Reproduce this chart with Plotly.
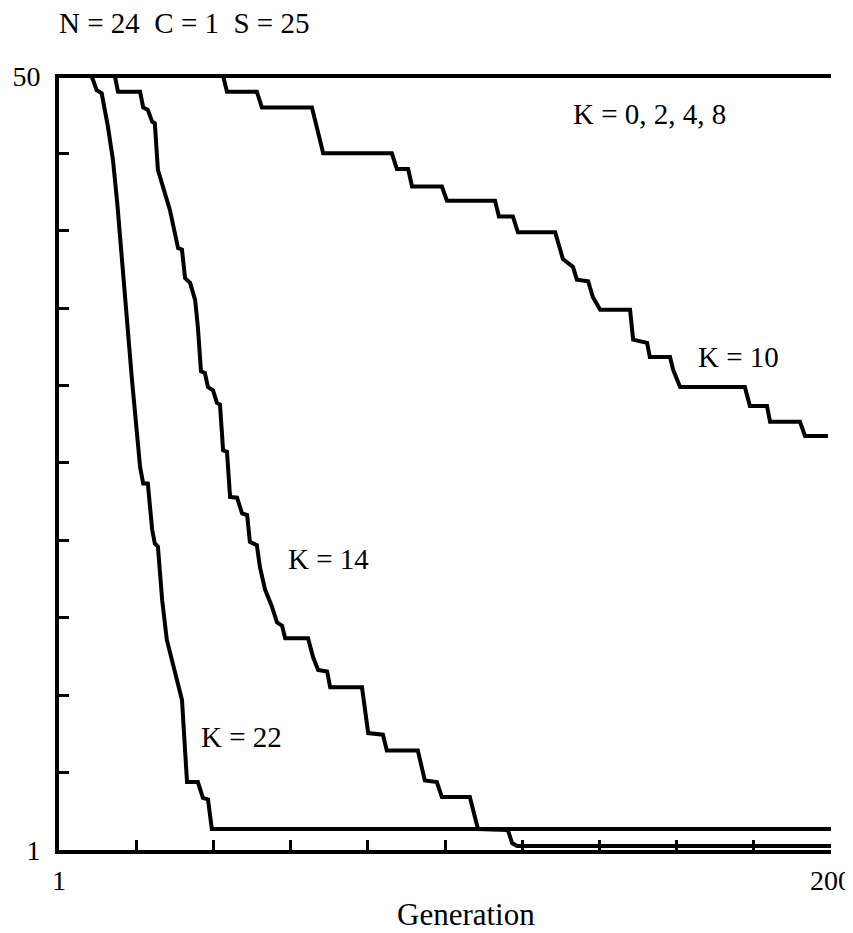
import plotly.graph_objects as go

# ---- data ----
gen_k0_8 = [1, 200]
val_k0_8 = [50, 50]

gen_k10 = [1, 43.3, 44.3, 52.0, 53.3, 66.2, 69.1, 86.8, 88.1, 91.0, 92.0, 99.7, 101.0,
           113.4, 114.4, 118.0, 119.3, 128.9, 130.9, 133.5, 134.5, 137.4, 138.6, 140.5,
           148.2, 149.0, 152.6, 153.3, 158.5, 159.3, 161.1, 177.8, 179.1, 183.5, 184.3,
           192.0, 193.3, 199.2]
val_k10 = [50, 50, 49.0, 49.0, 48.0, 48.0, 45.1, 45.1, 44.1, 44.1, 43.0, 43.0, 42.1,
           42.1, 41.1, 41.1, 40.1, 40.1, 38.4, 37.9, 37.1, 37.0, 36.0, 35.2,
           35.2, 33.3, 33.1, 32.2, 32.2, 31.4, 30.3, 30.3, 29.1, 29.1, 28.1,
           28.1, 27.2, 27.2]

gen_k14 = [1, 15.4, 16.2, 21.9, 22.7, 23.9, 25.0, 25.7, 26.5, 29.6, 31.7, 32.7, 33.5,
           34.8, 36.1, 36.8, 37.6, 38.6, 39.4, 40.7, 41.7, 42.5, 43.3, 44.3, 45.1, 46.9,
           48.2, 49.5, 50.2, 52.0, 52.8, 54.1, 55.9, 57.2, 58.5, 59.3, 65.2, 66.5, 67.8,
           70.1, 70.9, 79.1, 80.7, 84.5, 85.5, 93.5, 95.3, 98.4, 99.7, 106.9, 109.0,
           116.7, 117.8, 119.1, 200]
val_k14 = [50, 50, 49.0, 49.0, 48.0, 47.85, 47.1, 47.0, 44.05, 41.5, 39.1, 39.0, 37.2,
           36.9, 35.8, 34.1, 31.3, 31.2, 30.3, 30.1, 29.3, 29.2, 26.3, 26.2, 23.35, 23.3,
           22.3, 22.2, 20.5, 20.3, 18.9, 17.5, 16.4, 15.4, 15.2, 14.4, 14.4, 13.2, 12.4,
           12.3, 11.3, 11.3, 8.4, 8.3, 7.3, 7.3, 5.4, 5.3, 4.35, 4.35, 2.33,
           2.27, 1.44, 1.25, 1.25]

gen_k22 = [1, 9.4, 10.7, 12.0, 13.6, 14.9, 16.0, 17.2, 18.5, 19.8, 21.9, 22.7, 23.9,
           25.0, 25.7, 26.5, 27.6, 28.8, 32.7, 34.0, 36.8, 38.1, 39.4, 40.4, 200]
val_k22 = [50, 50, 49.1, 48.9, 46.8, 44.7, 42.0, 38.35, 34.1, 30.8, 25.25, 24.2, 24.2,
           21.3, 20.4, 20.2, 16.8, 14.3, 10.5, 5.3, 5.3, 4.3, 4.2, 2.33, 2.33]

x_tick_vals = [1 + 19.9 * i for i in range(11)]
x_tick_text = ["1"] + [""] * 9 + ["200"]
y_tick_vals = [1 + 4.9 * i for i in range(11)]
y_tick_text = ["1"] + [""] * 9 + ["50"]

title_text = "N = 24  C = 1  S = 25"
x_title = "Generation"
labels = ["K = 0, 2, 4, 8", "K = 10", "K = 14", "K = 22"]

# ---- figure ----
OFF = 8  # default page body margin
W, H = 853 - OFF, 933 - OFF
L, T = 59 - OFF, 74 - OFF
R = W - (831 - OFF)
B = H - (850 - OFF)
PW, PH = W - L - R, H - T - B

def px2paper(px, py):
    # px, py are page coordinates
    fx, fy = px - OFF, py - OFF
    return (fx - L) / PW, (H - B - fy) / PH

FONT = '"Liberation Serif", "DejaVu Serif", serif'
line = dict(color="black", width=4)

fig = go.Figure()
for g, v in [(gen_k0_8, val_k0_8), (gen_k10, val_k10), (gen_k14, val_k14), (gen_k22, val_k22)]:
    fig.add_trace(go.Scatter(x=g, y=v, mode="lines", line=line, showlegend=False,
                             hoverinfo="skip"))

ann = []
def add_text(text, px, py, size, xanchor="left"):
    x, y = px2paper(px, py)
    ann.append(dict(text=text, x=x, y=y, xref="paper", yref="paper", showarrow=False,
                    xanchor=xanchor, yanchor="middle",
                    font=dict(family=FONT, size=size, color="black")))

add_text(title_text, 57, 23, 29)
add_text(labels[0], 571, 114, 29)
add_text(labels[1], 696, 357, 29)
add_text(labels[2], 286, 559, 29)
add_text(labels[3], 199, 737, 29)
add_text(x_title, 466, 914, 31, xanchor="center")

fig.update_layout(
    template="none",
    width=W, height=H,
    margin=dict(l=L, r=R, t=T, b=B, pad=0, autoexpand=False),
    paper_bgcolor="white", plot_bgcolor="white",
    annotations=ann,
    font=dict(family=FONT, color="black", size=28),
    xaxis=dict(range=[1, 200], showgrid=False, zeroline=False, showline=True,
               automargin=False,
               linecolor="black", linewidth=4, ticks="inside", ticklen=10,
               tickwidth=3, tickcolor="black", tickvals=x_tick_vals,
               ticktext=x_tick_text, tickfont=dict(family=FONT, size=28),
               ticklabelstandoff=2, fixedrange=True),
    yaxis=dict(range=[1, 50.12], showgrid=False, zeroline=False, showline=True,
               automargin=False,
               linecolor="black", linewidth=4, ticks="inside", ticklen=10,
               tickwidth=3, tickcolor="black", tickvals=y_tick_vals,
               ticktext=y_tick_text, tickfont=dict(family=FONT, size=28),
               ticklabelstandoff=9, fixedrange=True),
)

fig.write_html("out.html")
